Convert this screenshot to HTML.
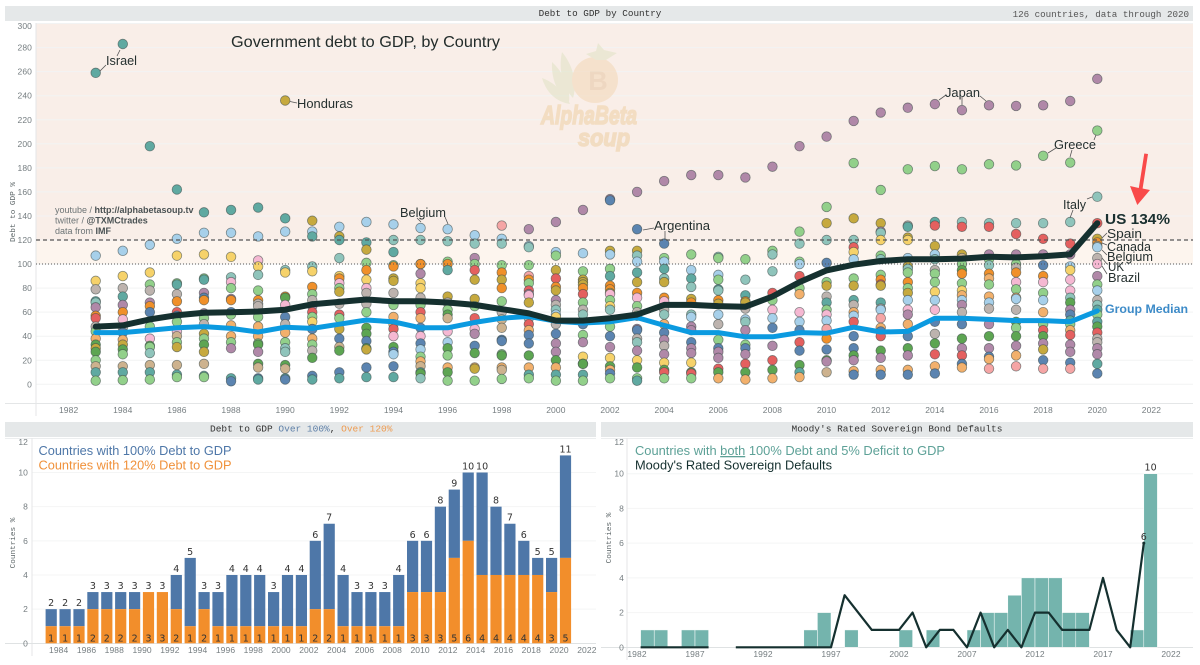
<!DOCTYPE html>
<html lang="en">
<head>
<meta charset="utf-8">
<title>Debt to GDP by Country</title>
<style>
html,body{margin:0;padding:0;background:#fff;width:1200px;height:665px;overflow:hidden}
svg{display:block}
text{font-family:"Liberation Sans",sans-serif}
.mono{font-family:"Liberation Mono",monospace}
.tick{font-size:8.5px;fill:#757d80;letter-spacing:.1px}
.ann{font-size:13px;fill:#25302f}
.lead{stroke:#555;stroke-width:.8;fill:none}
.val{font-family:"DejaVu Sans",sans-serif;font-size:9.5px;fill:#333;text-anchor:middle}
</style>
</head>
<body>
<svg id="chart" width="1200" height="665" viewBox="0 0 1200 665" xmlns="http://www.w3.org/2000/svg">
  <rect width="1200" height="665" fill="#fff"/>

  <!-- Top panel chrome -->
  <rect x="5" y="6" width="1188" height="15" fill="#e5e8e9"/>
  <text class="mono" x="600" y="16" font-size="9.3" fill="#333" text-anchor="middle">Debt to GDP by Country</text>
  <text class="mono" x="1189" y="17" font-size="9.2" fill="#555" text-anchor="end">126 countries, data through 2020</text>
  <rect x="36" y="23" width="1157" height="217" fill="#f9eee8"/>
  <rect x="36" y="240" width="1157" height="24" fill="#fdf5ee"/>
  <g id="mainGrid"></g>
  <line x1="36" y1="23" x2="36" y2="416" stroke="#e4e6e7"/>
  <line x1="5" y1="403.5" x2="1193" y2="403.5" stroke="#e4e6e7"/>
  <text class="mono" transform="translate(15,212) rotate(-90)" font-size="7.7" fill="#5d6668" text-anchor="middle">Debt to GDP %</text>

  <!-- Watermark -->
  <g opacity=".6">
    <path d="M562 52 C572 64 578 82 573 98 C563 88 558 70 562 52Z" fill="#e2e4c8"/>
    <path d="M552 62 C563 72 571 88 569 102 C557 94 551 78 552 62Z" fill="#e2e4c8"/>
    <path d="M542 78 C554 82 566 94 570 104 C556 102 546 92 542 78Z" fill="#e2e4c8"/>
    <circle cx="595" cy="80" r="23" fill="#f4d9ba"/>
    <path d="M586 54 L596 51 L598 43 L604 50 L617 53 L606 60 L596 60Z" fill="#e2e4c8"/>
    <text x="598" y="90" font-size="27" font-weight="bold" fill="#e7c9a8" text-anchor="middle">B</text>
    <text x="541" y="124" font-family="Liberation Serif" font-style="italic" font-weight="bold" font-size="26" fill="#f0d2a9" stroke="#f0d2a9" stroke-width="1.5" textLength="96" lengthAdjust="spacingAndGlyphs">AlphaBeta</text>
    <text x="578" y="146" font-family="Liberation Serif" font-style="italic" font-weight="bold" font-size="24" fill="#efd1a8" stroke="#efd1a8" stroke-width="1.5" textLength="52" lengthAdjust="spacingAndGlyphs">soup</text>
  </g>

  <text x="231" y="47" font-size="16" fill="#222c2b" textLength="269" lengthAdjust="spacingAndGlyphs">Government debt to GDP, by Country</text>
  <g font-size="9" fill="#6c7476">
    <text x="55" y="213">youtube / <tspan font-weight="bold" fill="#4a5254">http://alphabetasoup.tv</tspan></text>
    <text x="55" y="223.5">twitter / <tspan font-weight="bold" fill="#4a5254">@TXMCtrades</tspan></text>
    <text x="55" y="234">data from <tspan font-weight="bold" fill="#4a5254">IMF</tspan></text>
  </g>

  <g id="mainPoints"></g>
  <line x1="36" y1="240" x2="1193" y2="240" stroke="#555" stroke-width="1.2" stroke-dasharray="4 3"/>
  <line x1="36" y1="264" x2="1193" y2="264" stroke="#555" stroke-width="1" stroke-dasharray="1 2"/>
  <path id="medianLine" fill="none" stroke="#0b9ae0" stroke-width="5" stroke-linejoin="round" stroke-linecap="round"/>
  <path id="usLine" fill="none" stroke="#15302f" stroke-width="6" stroke-linejoin="round" stroke-linecap="round"/>
  <g id="mainTicks"></g>

  <!-- Annotations -->
  <g>
    <path class="lead" d="M120 50 L117 56 M100 71 L106 65"/>
    <text class="ann" x="106" y="65" textLength="31" lengthAdjust="spacingAndGlyphs">Israel</text>
    <path class="lead" d="M290 101.5 L297 103"/>
    <text class="ann" x="297" y="108" textLength="56" lengthAdjust="spacingAndGlyphs">Honduras</text>
    <path class="lead" d="M417 218 L421 222 M445 217 L448 224"/>
    <text class="ann" x="400" y="217" textLength="46" lengthAdjust="spacingAndGlyphs">Belgium</text>
    <path class="lead" d="M643 230 L654 228 M665 231 L665 240"/>
    <text class="ann" x="654" y="230" textLength="56" lengthAdjust="spacingAndGlyphs">Argentina</text>
    <path class="lead" d="M939 100 L946 95 M962 97 L962 105 M980 96 L986 101"/>
    <text class="ann" x="945" y="97" textLength="35" lengthAdjust="spacingAndGlyphs">Japan</text>
    <path class="lead" d="M1048 153 L1056 148 M1072 150 L1070 157 M1094 140 L1096 135"/>
    <text class="ann" x="1054" y="149" textLength="42" lengthAdjust="spacingAndGlyphs">Greece</text>
    <path class="lead" d="M1087 199 L1092 197 M1073 210 L1070 218"/>
    <text class="ann" x="1063" y="209" textLength="23" lengthAdjust="spacingAndGlyphs">Italy</text>
    <text x="1105" y="224" font-size="15" font-weight="bold" fill="#1a3030" textLength="65" lengthAdjust="spacingAndGlyphs">US 134%</text>
    <path class="lead" d="M1107 233 L1102 238 M1107 245 L1102 243 M1107 255 L1102 250 M1107 264 L1102 258 M1107 274 L1102 266"/>
    <text class="ann" x="1107" y="238" textLength="35" lengthAdjust="spacingAndGlyphs">Spain</text>
    <text class="ann" x="1107" y="251" textLength="44" lengthAdjust="spacingAndGlyphs">Canada</text>
    <text class="ann" x="1107" y="261" textLength="46" lengthAdjust="spacingAndGlyphs">Belgium</text>
    <text class="ann" x="1108" y="271" textLength="16" lengthAdjust="spacingAndGlyphs">UK</text>
    <text class="ann" x="1108" y="282" textLength="32" lengthAdjust="spacingAndGlyphs">Brazil</text>
    <text x="1105" y="313" font-size="12" font-weight="bold" fill="#3d8bc8" textLength="83" lengthAdjust="spacingAndGlyphs">Group Median</text>
    <path d="M1144.3 153.5 L1148 154 L1142.6 188.5 L1150 190 L1137.3 205 L1130 186 L1138.8 188Z" fill="#f94a4a"/>
  </g>

  <!-- Bottom left panel -->
  <rect x="5" y="422" width="591" height="15" fill="#e5e8e9"/>
  <line x1="5" y1="438.5" x2="596" y2="438.5" stroke="#eceeef"/>
  <text class="mono" x="210" y="431.5" font-size="9.5" fill="#333">Debt to GDP <tspan fill="#5f80a8">Over 100%</tspan>, <tspan fill="#ee9b50">Over 120%</tspan></text>
  <g id="leftGrid"></g>
  <line x1="32" y1="438" x2="32" y2="656" stroke="#e4e6e7"/>
  <line x1="5" y1="643.5" x2="596" y2="643.5" stroke="#dfe2e3"/>
  <text class="mono" transform="translate(15,543) rotate(-90)" font-size="7.7" fill="#5d6668" text-anchor="middle">Countries %</text>
  <g id="leftBars"></g>
  <g id="leftTicks"></g>
  <text x="38.5" y="455" font-size="13" fill="#4e77a8" textLength="193" lengthAdjust="spacingAndGlyphs">Countries with 100% Debt to GDP</text>
  <text x="38.5" y="469.5" font-size="13" fill="#f0913a" textLength="193" lengthAdjust="spacingAndGlyphs">Countries with 120% Debt to GDP</text>

  <!-- Bottom right panel -->
  <rect x="601" y="422" width="592" height="15" fill="#e5e8e9"/>
  <line x1="601" y1="438.5" x2="1193" y2="438.5" stroke="#eceeef"/>
  <text class="mono" x="791.5" y="431.5" font-size="9.5" fill="#333">Moody's Rated Sovereign Bond Defaults</text>
  <g id="rightGrid"></g>
  <line x1="627" y1="438" x2="627" y2="660" stroke="#e4e6e7"/>
  <line x1="601" y1="647.5" x2="1193" y2="647.5" stroke="#dfe2e3"/>
  <text class="mono" transform="translate(611,538) rotate(-90)" font-size="7.7" fill="#5d6668" text-anchor="middle">Countries %</text>
  <g id="rightBars"></g>
  <path id="defaultLine" fill="none" stroke="#15302f" stroke-width="2.2" stroke-linejoin="round"/>
  <g id="rightMarks"></g>
  <g id="rightTicks"></g>
  <text x="635" y="455" font-size="13" fill="#5da197" textLength="310" lengthAdjust="spacingAndGlyphs">Countries with <tspan text-decoration="underline">both</tspan> 100% Debt and 5% Deficit to GDP</text>
  <text x="635" y="469.5" font-size="13" fill="#15302f" textLength="197" lengthAdjust="spacingAndGlyphs">Moody's Rated Sovereign Defaults</text>
</svg>

<script>
// ---- Main scatter data ----
const scatterYears = [1983,1984,1985,1986,1987,1988,1989,1990,1991,1992,1993,1994,1995,1996,1997,1998,1999,2000,2001,2002,2003,2004,2005,2006,2007,2008,2009,2010,2011,2012,2013,2014,2015,2016,2017,2018,2019,2020];
const scatterDebt = [
[259,107,86,79,69,68,64,57,55,48,44,38,33,30,27,20,15,10,3],
[283,111,90,80,73,66,60,54,47,43,37,33,29,25,15,10,3.5],
[198,116,93,83,78,68,65,60,48,38,32,31,26,16,10,4],
[162,121,107,84,83,75,69,60,57,52,44,40,35,31,16,8,6],
[143,126,108,88,87,76,72,70,59,55,50,42,38,33,27,17,7,6],
[145,126,106,89,85,80,71,70,60,58,49,40,35,30,5,2.5],
[147,123,103,98,91,78,70,67,65,56,48,40,34,33,27,17,14,5,4],
[236,138,127,95,93,73,72,66,56,50,43,35,30,27,16,13,5,4],
[136,127,123,98,94,81,75,70,65,60,56,52,46,38,33,28,22,7,4],
[131,123,120,105,90,88,84,80,77,67,58,55,46,38,31,28,10,5],
[135,118,112,101,95,87,80,76,67,60,47,42,36,30,29,14,6],
[133,120,110,99,98,88,86,76,66,56,50,46,40,31,27,25,15,6],
[130,120,100,100,92,84,80,72,66,60,55,47,40,34,29,23,19,15,10,9,5],
[129,119,102,100,95,73,68,62,58,55,44,35,30,24,14,10,3],
[124,117,105,100,95,87,71,65,55,46,42,32,26,14,13,3],
[132,121,117,99,93,87,80,69,60,54,47,37,36,25,24,14,12,4.5],
[129,115,114,99,90,87,84,78,75,74,68,55,50,45,41,34,24,14,8,5],
[135,110,107,95,88,81,78,70,66,62,58,56,50,42,34,27,20,14,8,3],
[145,109,94,87,85,83,80,75,68,62,58,50,41,35,23,17,17,8,3],
[154,153,111,108,96,90,82,79,76,75,70,65,62,48,40,31,22,15,12,9,5],
[160,129,111,107,102,93,85,76,72,65,60,57,46,45,38,35,28,20,14,5,3],
[169,117,105,102,96,88,85,72,69,62,58,50,43,37,32,25,18,12,10,5],
[174,108,95,88,81,71,68,58,56,48,45,35,30,26,18,10,9,5],
[174,106,105,91,87,79,78,70,67,58,50,37,30,27,22,13,10,5],
[172,104,87,74,69,68,63,54,52,45,33,30,25,17,10,4],
[181,111,108,94,76,70,62,55,47,32,20,12,5],
[198,127,117,102,100,90,80,75,60,52,45,35,28,16,10,6],
[206,147.5,134,120,101,85,82,73,68,62,58,53,46,38,29,20,19,10],
[219,184,138,120,114,110,104,88,82,70,66,60,57,52,40,30,24,20,11,8],
[226,161.6,134,127,126,120,107,104,91,87,83,82,68,63,62,55,47,44,40,28,22,12,8],
[230,178.8,132,131,122,120,105,98,96,93,85,80,76,70,62,58,50,40,30,24,12,8],
[233,181.5,135,132,115,108,104,95,92,85,77,70,62,52,42,34,25,15,9],
[228,178.8,135,131,108,105,100,95,92,84,78,74,70,66,60,50,38,30,24,17,14],
[232,183,134,131,108,104,99,92,88,83,73,68,63,50,40,30,23,21,13],
[231.5,182,134,125,108,100,97,93,85,79,72,71,62,52,47,40,32,24,15],
[232,190,134,121,108,99,90,85,76,70,60,50,45,40,34,29,20,13],
[235.6,184.4,135,117,108,98,95,87,78,72,68,62,58,53,50,45,41,33,27,18,13],
[254,211,156,134,121,118,115,114,105,100,90,83,78,70,66,62,58,52,48,43,38,35,30,25,17,9]
];
// One letter per point: which country group the point belongs to.
const scatterGroups = [
"tbYktlmorkganyngvtg","tbYktmoPkBayngvtg","tbYgkmoBgPnglvtg","tbYgtkorBgPvgyvtg","tbYgtmBomgkygnyvtg","tbYlPgmoBgaagmtB","tbPYlgokkgaagnmnvBt","ytblYonPBkagllnvtB",
"ybtlYogkmrgYBagknBt","bytlYoPgykrgyBvnBt","btygoYPkkgnnBnyBt","bltgoyykgaarPnBbBt","blgomYYkgraBPBbgavtnl","blgotykgnvPbngang","blmgryygrPmBnayg","RblgoyogkvvBBgnavg",
"mblgRogrmPykraBBnatg","mbgyroymklbYkBmmnatg","mbgyyyorgklBgmYvntg","mBybgtooyPgYlgBmYnaBg","mBylbtyoPgkgmBklmYngt","mBgbtlyoPklaBmkmYnrg","mgbtlyolbmmBmmYnrg","mlgbgtloybkgBmmrna",
"mgltoykblmgBmrna","mgllrgPbBmrna","mglgbrgaPbBrBnta","mgylBgyktgPbRoBnmv","mgylrYbgytkabrBBnmaB","mgymlYglgorytkbRaBrnmaB","mgktyYbylgogybPmaBnmaB","mgtryblkggYbPBknraB",
"mglryvgnogYabmkBnmrBa","mglrmgloagabkmnmBaR","mglrmgkoPgabkngnmaR","mglrmBoPgbagrnmyBR","mglrmbYPPlnmBtgarmmBR","mglryovbkPmgbkltgtnrkkmmtB"
];
const usDebt = [48,49,54,57.5,59.5,60,60.5,62,66.5,68.5,70.5,69,69,68,66,62.5,59,53,53,55,58,66,66,65,64.5,73,85,94.7,99.5,102.5,104,104,104.5,106,105.5,106.5,108,134];
const groupMedian = [43,43,45,47,48,46.5,43.5,47.5,46.5,50,53.5,52,47,47,51.5,55,56.5,52.5,51,52,55.5,49,43,43,39.5,39.5,43,42.5,47.5,43.5,44,55,55,54,53,53,52,61];
const mainYTicks = [0,20,40,60,80,100,120,140,160,180,200,220,240,260,280,300];
const mainXTicks = [1982,1984,1986,1988,1990,1992,1994,1996,1998,2000,2002,2004,2006,2008,2010,2012,2014,2016,2018,2020,2022];

// ---- Bottom-left bars ----
const barYears = [1983,1984,1985,1986,1987,1988,1989,1990,1991,1992,1993,1994,1995,1996,1997,1998,1999,2000,2001,2002,2003,2004,2005,2006,2007,2008,2009,2010,2011,2012,2013,2014,2015,2016,2017,2018,2019,2020];
const over100 = [2,2,2,3,3,3,3,3,3,4,5,3,3,4,4,4,3,4,4,6,7,4,3,3,3,4,6,6,8,9,10,10,8,7,6,5,5,11];
const over120 = [1,1,1,2,2,2,2,3,3,2,1,2,1,1,1,1,1,1,1,2,2,1,1,1,1,1,3,3,3,5,6,4,4,4,4,4,3,5];
const leftYTicks = [0,2,4,6,8,10,12];
const leftXTicks = [1984,1986,1988,1990,1992,1994,1996,1998,2000,2002,2004,2006,2008,2010,2012,2014,2016,2018,2020,2022];

// ---- Bottom-right bars + line ----
const bothYears = [1983,1984,1986,1987,1995,1996,1998,2002,2004,2007,2008,2009,2010,2011,2012,2013,2014,2015,2019,2020];
const bothCounts = [1,1,1,1,1,2,1,1,1,1,2,2,3,4,4,4,2,2,1,10];
const defaultYears = [1983,1984,1985,1986,1987,1988,1989,1990,1991,1992,1993,1994,1995,1996,1997,1998,1999,2000,2001,2002,2003,2004,2005,2006,2007,2008,2009,2010,2011,2012,2013,2014,2015,2016,2017,2018,2019,2020];
const defaultCounts = [0,0,0,0,0,0,null,0,0,0,0,0,0,0,0,3,2,1,1,1,2,0,1,1,0,2,0,1,0,2,2,1,1,1,4,1,0,6];
const rightYTicks = [0,2,4,6,8,10,12];
const rightXTicks = [1982,1987,1992,1997,2002,2007,2012,2017,2022];

const groupColors = {t:"#5fa9a1",y:"#c6a93e",m:"#b088a8",g:"#92d08a",b:"#a7d0ea",l:"#8fc4bb",o:"#f0902a",Y:"#f6d26a",r:"#e4605f",R:"#f5a5a5",P:"#f5b8d2",k:"#bdb3ae",n:"#5da552",B:"#5b84b0",a:"#f2b06c",v:"#cdb28e"};

const NS = "http://www.w3.org/2000/svg";
function mk(parent, tag, attrs, txt){
  const el = document.createElementNS(NS, tag);
  for (const k in attrs) el.setAttribute(k, attrs[k]);
  if (txt !== undefined) el.textContent = txt;
  parent.appendChild(el);
  return el;
}
const byId = id => document.getElementById(id);

// Scales
const mainX = y => 95.7 + 27.07 * (y - 1983);
const mainY = v => 384.3 - 1.2025 * v;
const leftX = y => 58.7 + 13.9 * (y - 1984);
const leftY = v => 643.3 - 17.08 * v;
const rightX = y => 627 + 13.6 * (y - 1982);
const rightY = v => 647.3 - 17.36 * v;

// Main chart grid + ticks
mainYTicks.forEach(v => {
  const ln = mk(byId("mainGrid"), "line", {x1:36, x2:1193, y1:mainY(v), y2:mainY(v), stroke:"#f2f3f3", "stroke-width":1});
  
  
  const t = mk(byId("mainTicks"), "text", {class:"tick", x:32, y:Math.max(mainY(v) + 3, 29), "text-anchor":"end"}, v);
  
  
});
mainXTicks.forEach(y => {
  const t = mk(byId("mainTicks"), "text", {class:"tick", x:mainX(y), y:413, "text-anchor":"middle"}, y);
  
  
});

// Country dots
scatterYears.forEach((yr, i) => {
  const groups = scatterGroups[i] || "";
  scatterDebt[i].forEach((v, j) => {
    const c = mk(byId("mainPoints"), "circle", {
      cx: mainX(yr), cy: mainY(v), r: 4.8,
      fill: groupColors[groups[j]] || groupColors.k,
      stroke: "#3c4a48", "stroke-opacity": .6, "stroke-width": .8
    });
    
    
  });
});

// Lines
const linePath = (xs, ys, fx, fy) => {
  let d = "", pen = false;
  xs.forEach((x, i) => {
    if (ys[i] === null) { pen = false; return; }
    d += (pen ? "L" : "M") + fx(x).toFixed(1) + " " + fy(ys[i]).toFixed(1);
    pen = true;
  });
  return d;
};
byId("usLine").setAttribute("d", linePath(scatterYears, usDebt, mainX, mainY));
byId("medianLine").setAttribute("d", linePath(scatterYears, groupMedian, mainX, mainY));

// Left chart
leftYTicks.forEach(v => {
  if (v > 0 && v < 12) {
    const ln = mk(byId("leftGrid"), "line", {x1:32, x2:596, y1:leftY(v), y2:leftY(v), stroke:"#f4f5f5"});
    
    
  }
  const t = mk(byId("leftTicks"), "text", {class:"tick", x:28, y:Math.max(leftY(v) + 3, 445), "text-anchor":"end"}, v);
  
  
});
leftXTicks.forEach(y => {
  const t = mk(byId("leftTicks"), "text", {class:"tick", x:leftX(y), y:653, "text-anchor":"middle"}, y);
  
  
});
barYears.forEach((yr, i) => {
  const cx = leftX(yr) + 6.4, w = 11.2;
  const top = mk(byId("leftBars"), "rect", {x:cx - w/2, y:leftY(over100[i]), width:w, height:leftY(over120[i]) - leftY(over100[i]), fill:"#4e77a8"});
  
  
  const bot = mk(byId("leftBars"), "rect", {x:cx - w/2, y:leftY(over120[i]), width:w, height:leftY(0) - leftY(over120[i]), fill:"#f28e2b"});
  
  
  const a = mk(byId("leftBars"), "text", {class:"val", x:cx, y:leftY(over100[i]) - 3}, over100[i]);
  
  
  const b = mk(byId("leftBars"), "text", {class:"val", x:cx, y:641.5}, over120[i]);
  
  
});

// Right chart
rightYTicks.forEach(v => {
  if (v > 0 && v < 12) {
    const ln = mk(byId("rightGrid"), "line", {x1:627, x2:1193, y1:rightY(v), y2:rightY(v), stroke:"#f4f5f5"});
    
    
  }
  const t = mk(byId("rightTicks"), "text", {class:"tick", x:624, y:Math.max(rightY(v) + 3, 445), "text-anchor":"end"}, v);
  
  
});
rightXTicks.forEach(y => {
  const t = mk(byId("rightTicks"), "text", {class:"tick", x:y === 1982 ? 637 : rightX(y), y:657, "text-anchor":"middle"}, y);
  
  
});
bothYears.forEach((yr, i) => {
  const r = mk(byId("rightBars"), "rect", {x:rightX(yr), y:rightY(bothCounts[i]), width:13.6, height:rightY(0) - rightY(bothCounts[i]), fill:"#74b4ad", stroke:"#fff", "stroke-width":.5});
  
  
});
byId("defaultLine").setAttribute("d", linePath(defaultYears, defaultCounts, rightX, rightY));

const lastBoth = bothCounts.length - 1;
const lastDefault = defaultCounts.length - 1;
const bothLabel = mk(byId("rightMarks"), "text", {class:"val", x:rightX(bothYears[lastBoth]) + 6.8, y:rightY(bothCounts[lastBoth]) - 3}, bothCounts[lastBoth]);


const defDot = mk(byId("rightMarks"), "circle", {cx:rightX(defaultYears[lastDefault]), cy:rightY(defaultCounts[lastDefault]), r:1.5, fill:"#15302f"});


const defLabel = mk(byId("rightMarks"), "text", {class:"val", x:rightX(defaultYears[lastDefault]), y:rightY(defaultCounts[lastDefault]) - 3}, defaultCounts[lastDefault]);


</script>
</body>
</html>
